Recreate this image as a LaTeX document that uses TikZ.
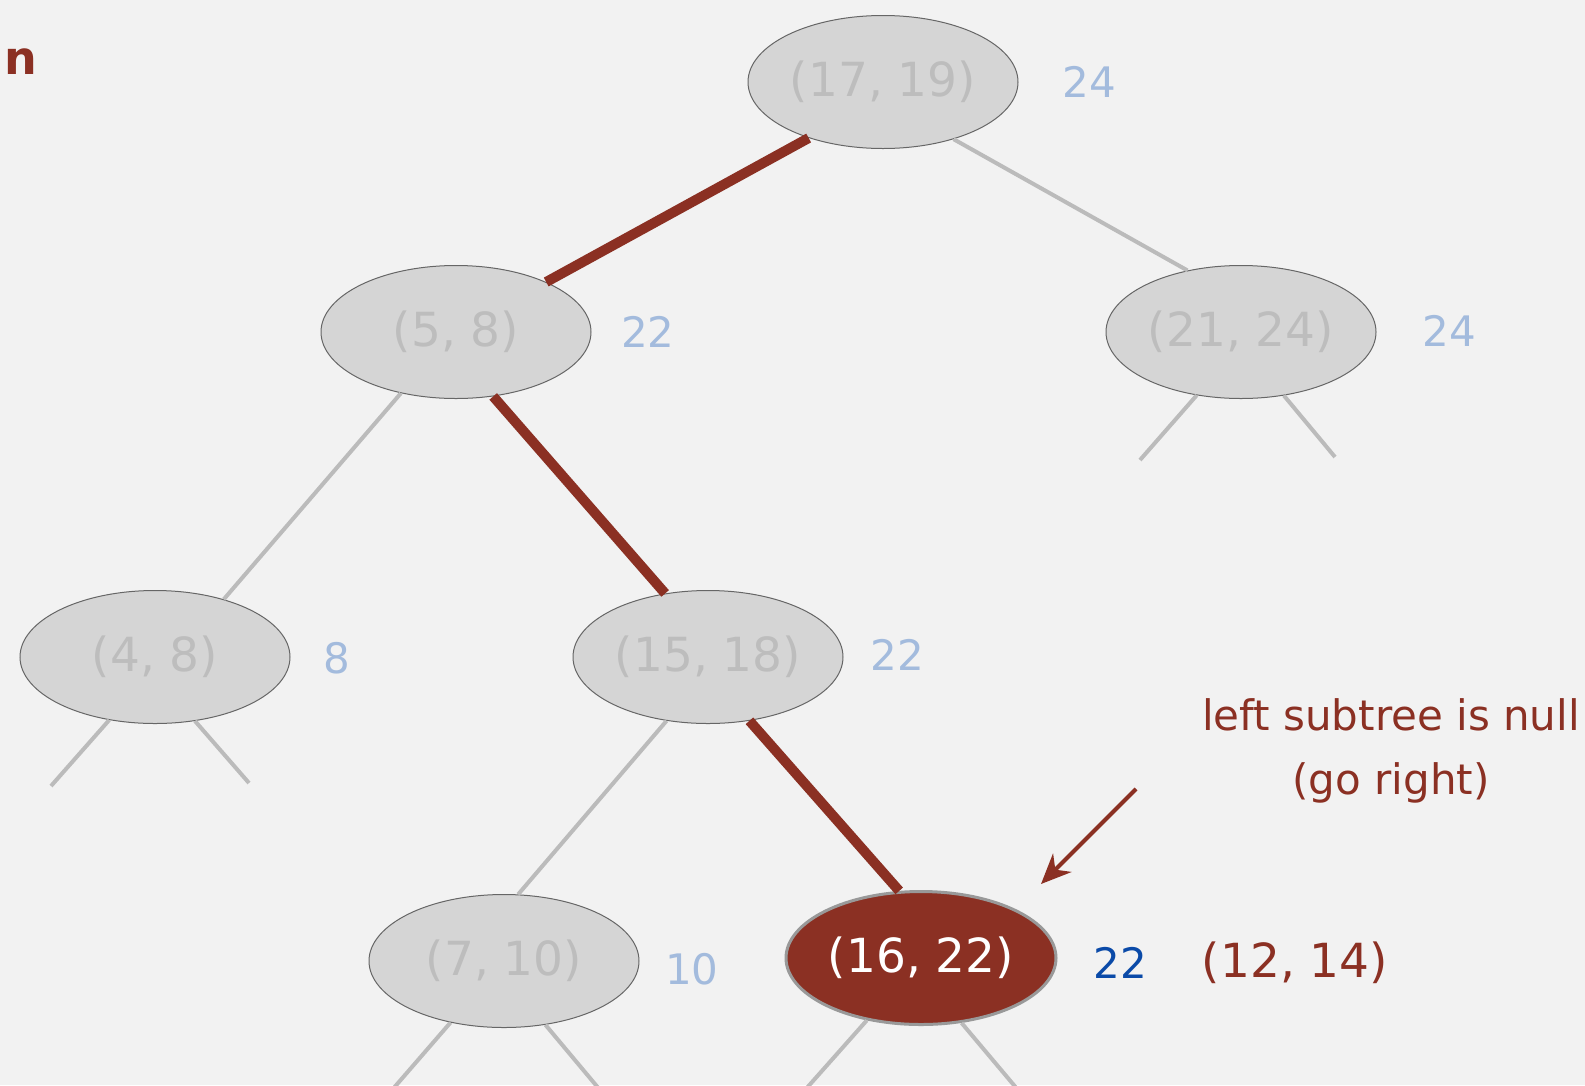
\documentclass[tikz,border=0pt]{standalone}
\usepackage{fontspec}
\setmainfont{DejaVu Sans}
\usetikzlibrary{shapes.geometric,arrows.meta}

\definecolor{bg}{HTML}{F2F2F2}
\definecolor{keyfill}{HTML}{D5D5D5}
\definecolor{keytext}{HTML}{BDBDBD}
\definecolor{maxblue}{HTML}{A3BBDD}
\definecolor{hotred}{HTML}{8B3023}
\definecolor{deepblue}{HTML}{0A4AA8}
\definecolor{linkgray}{HTML}{BBBBBB}

\tikzset{
  key/.style={ellipse, draw=black!60, line width=1pt, fill=keyfill, text=keytext,
    minimum width=270pt, minimum height=133pt, inner sep=0pt,
    font=\fontsize{47}{54}\selectfont},
  hotkey/.style={key, fill=hotred, text=white, draw=black!40, line width=3pt},
  maxlab/.style={text=maxblue, inner sep=0pt, font=\fontsize{42}{50}\selectfont},
  note/.style={text=hotred, inner sep=0pt, align=center, font=\fontsize{42}{64}\selectfont},
  treeline/.style={linkgray, line width=4pt},
  searchline/.style={hotred, line width=10pt},
}

\begin{document}
\begin{tikzpicture}[x=1pt, y=-1pt]

  \fill[bg] (0,0) rectangle (1585,1085);
  \useasboundingbox (0,0) rectangle (1585,1085);
  \clip (0,0) rectangle (1585,1085);

  \node[key] (k17) at (883,82) {(17, 19)};
  \node[key] (k5) at (456,332) {(5, 8)};
  \node[key] (k21) at (1241,332) {(21, 24)};
  \node[key] (k4) at (155,657) {(4, 8)};
  \node[key] (k15) at (708,657) {(15, 18)};
  \node[key] (k7) at (504,961) {(7, 10)};
  \node[hotkey] (k16) at (921,958) {(16, 22)};

  \node[maxlab] (m17) at (1089,82) {24};
  \node[maxlab] (m5) at (648,332) {22};
  \node[maxlab] (m21) at (1449,331) {24};
  \node[maxlab] (m4) at (337,658) {8};
  \node[maxlab] (m15) at (897,655) {22};
  \node[maxlab] (m7) at (692,969) {10};
  \node[maxlab, text=deepblue] (m16) at (1120,963) {22};

  \node[note, font=\fontsize{47}{54}\selectfont] (query) at (1295,963) {(12, 14)};
  \node[note] (msg) at (1391,751) {left subtree is null\\(go right)};
  \node[text=hotred, inner sep=0pt, anchor=base west,
    font=\fontsize{46}{52}\selectfont\bfseries] (title) at (4,74) {n};

  %% loose ends of the subtrees
  \coordinate (s21a) at (1140,460);
  \coordinate (s21b) at (1335,457);
  \coordinate (s4a) at (51,786);
  \coordinate (s4b) at (249,783);
  \coordinate (s7a) at (392,1090);
  \coordinate (s7b) at (600,1090);
  \coordinate (s16a) at (805,1090);
  \coordinate (s16b) at (1018,1090);
  \coordinate (tail) at (1136,789);
  \coordinate (tip) at (1041,884);

  \draw[searchline] (k17.217) -- (k5.29); %% 17 5
  \draw[treeline] (k17.321) -- (k21.131); %% 17 21
  \draw[treeline] (k5.228) -- (k4.40); %% 5 4
  \draw[searchline] (k5.300) -- (k15.124); %% 5 15
  \draw[treeline] (k15.237) -- (k7.78); %% 15 7
  \draw[searchline] (k15.303) -- (k16.108); %% 15 16

  \draw[treeline] (k21.235) -- (s21a);
  \draw[treeline] (k21.304) -- (s21b);
  \draw[treeline] (k4.234) -- (s4a);
  \draw[treeline] (k4.302) -- (s4b);
  \draw[treeline] (k7.229) -- (s7a);
  \draw[treeline] (k7.303) -- (s7b);
  \draw[treeline] (k16.229) -- (s16a);
  \draw[treeline] (k16.302) -- (s16b);

  \draw[hotred, line width=4pt, -{Stealth[length=30pt, width=26pt]}] (tail) -- (tip);

\end{tikzpicture}
\end{document}
